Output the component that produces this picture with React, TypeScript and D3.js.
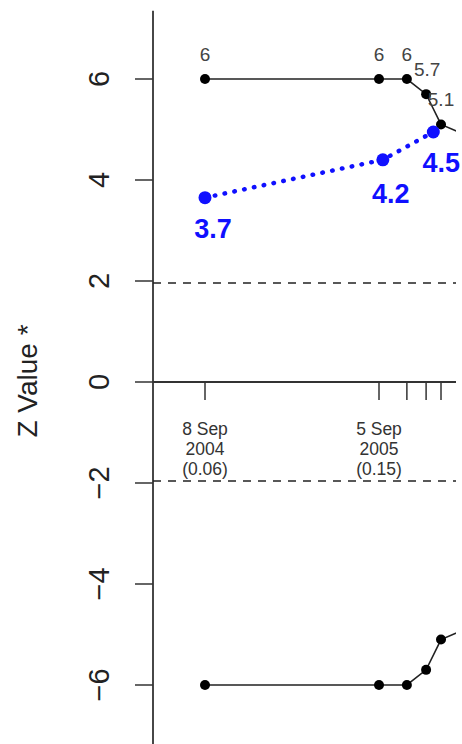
import React from 'react';
import * as d3 from 'd3';

// upper (positive) and lower (negative) black series
const blackDates = ['2004-09-08', '2005-09-05', '2005-11-02', '2005-12-12', '2006-01-12', '2006-03-15'];
const upperValues = [6, 6, 6, 5.7, 5.1, 4.85];
const lowerValues = [-6, -6, -6, -5.7, -5.1, -4.85];
const upperLabels = ['6', '6', '6', '5.7', '5.1', ''];

// blue dotted series
const blueDates = ['2004-09-08', '2005-09-13', '2005-12-27'];
const blueValues = [3.65, 4.4, 4.95];
const blueLabels = ['3.7', '4.2', '4.5'];

// x tick labels (only the first two have text)
const xTickLines = [['8 Sep', '2004', '(0.06)'], ['5 Sep', '2005', '(0.15)'], [], [], []];
const yTicks = [-6, -4, -2, 0, 2, 4, 6];
const critical = [1.96, -1.96];

const W = 462;
const H = 744;
const plotLeft = 153;
const plotRight = 456;

const parse = d3.timeParse('%Y-%m-%d');

export default function App() {
  const x = d3.scaleTime()
    .domain([parse('2004-09-08') as Date, parse('2005-09-05') as Date])
    .range([205, 379]);
  const y = d3.scaleLinear().domain([-6, 6]).range([685, 79]);

  const upper = blackDates.map((d, i) => ({ x: x(parse(d) as Date), y: y(upperValues[i]), label: upperLabels[i] }));
  const lower = blackDates.map((d, i) => ({ x: x(parse(d) as Date), y: y(lowerValues[i]) }));
  const blue = blueDates.map((d, i) => ({ x: x(parse(d) as Date), y: y(blueValues[i]), label: blueLabels[i] }));

  const line = d3.line<{ x: number; y: number }>().x(d => d.x).y(d => d.y);
  const font = 'Liberation Sans, Arial, Helvetica, sans-serif';

  const tickDates = blackDates.slice(0, 5);

  return (
    <svg width={W} height={H} style={{ position: 'absolute', left: 0, top: 0, background: '#fff' }} fontFamily={font}>
      <defs>
        <clipPath id="plot">
          <rect x={plotLeft} y={0} width={plotRight - plotLeft} height={H} />
        </clipPath>
      </defs>

      {/* y axis */}
      <line x1={plotLeft} x2={plotLeft} y1={y(7.35)} y2={H} stroke="#333" strokeWidth={1.8} />
      {yTicks.map(t => (
        <g key={t}>
          <line x1={plotLeft - 18} x2={plotLeft} y1={y(t)} y2={y(t)} stroke="#333" strokeWidth={1.5} />
          <text transform={`translate(109,${y(t)}) rotate(-90)`} textAnchor="middle" fontSize={29} fill="#222">
            {t < 0 ? `\u2212${-t}` : t}
          </text>
        </g>
      ))}
      <text transform={`translate(37,381) rotate(-90)`} textAnchor="middle" fontSize={28} fill="#222">Z Value *</text>

      {/* zero line with date ticks */}
      <line x1={plotLeft} x2={plotRight} y1={y(0)} y2={y(0)} stroke="#333" strokeWidth={1.8} />
      {tickDates.map((d, i) => {
        const px = x(parse(d) as Date);
        return (
          <g key={d}>
            <line x1={px} x2={px} y1={y(0)} y2={y(0) + 18} stroke="#333" strokeWidth={1.5} />
            {xTickLines[i].map((s, j) => (
              <text key={j} x={px} y={435 + j * 20} textAnchor="middle" fontSize={17.5} fill="#333">{s}</text>
            ))}
          </g>
        );
      })}

      {/* critical value lines */}
      {critical.map(c => (
        <line key={c} x1={plotLeft} x2={plotRight} y1={y(c)} y2={y(c)} stroke="#222" strokeWidth={1.3} strokeDasharray="8,7" />
      ))}

      <g clipPath="url(#plot)">
        <path d={line(upper) as string} fill="none" stroke="#222" strokeWidth={1.6} />
        <path d={line(lower) as string} fill="none" stroke="#222" strokeWidth={1.6} />
        {upper.slice(0, 5).map((p, i) => <circle key={i} cx={p.x} cy={p.y} r={5} fill="#000" />)}
        {lower.slice(0, 5).map((p, i) => <circle key={i} cx={p.x} cy={p.y} r={5} fill="#000" />)}
        <path d={line(blue) as string} fill="none" stroke="#1010ff" strokeWidth={4.5} strokeDasharray="0.5,9.5" strokeLinecap="round" />
        {blue.map((p, i) => <circle key={i} cx={p.x} cy={p.y} r={6.5} fill="#1010ff" />)}
      </g>

      {upper.slice(0, 5).map((p, i) => (
        <text key={i} x={p.x + (i === 3 ? 1 : 0)} y={p.y - 18} textAnchor="middle" fontSize={19} fill="#444">{p.label}</text>
      ))}
      {blue.map((p, i) => (
        <text key={i} x={p.x + 8} y={p.y + (i === 1 ? 43 : 40)} textAnchor="middle" fontSize={27} fontWeight="bold" fill="#1010ff">{p.label}</text>
      ))}
    </svg>
  );
}
